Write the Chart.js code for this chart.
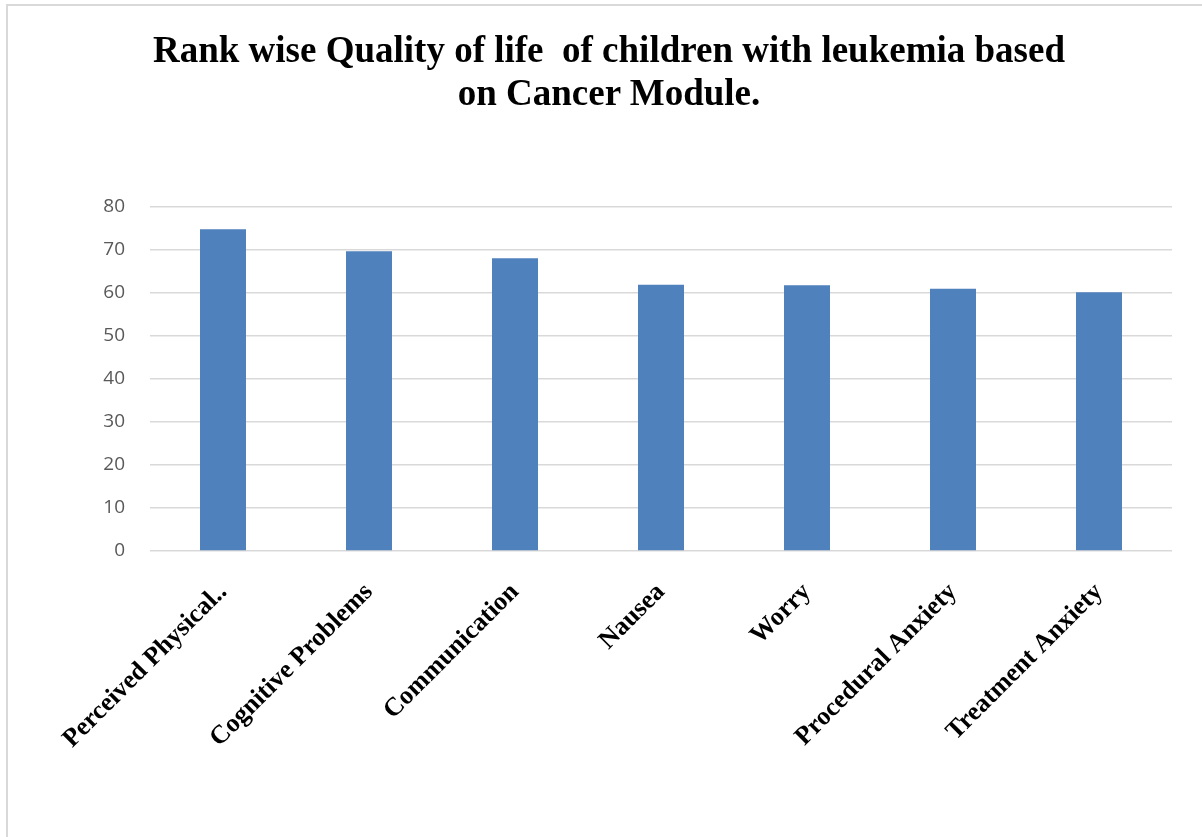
<!DOCTYPE html>
<html>
<head>
<meta charset="UTF-8">
<title>Rank wise Quality of life</title>
<script src="https://cdn.jsdelivr.net/npm/chart.js"></script>
<style>
  html, body { margin: 0; padding: 0; background: #fff; }
  #wrap { position: relative; width: 1202px; height: 837px; overflow: hidden; }
  #frame { position: absolute; left: 6px; top: 4px; width: 1300px; height: 900px;
    border-top: 2px solid #d9d9d9; border-left: 2px solid #d9d9d9; }
  #title { position: absolute; left: 0; top: 28px; width: 1218px; text-align: center;
    font-family: "Liberation Serif", "Times New Roman", serif; font-weight: bold;
    font-size: 37px; line-height: 43px; color: #000; white-space: pre; }
  canvas { position: absolute; left: 0; top: 0; }
</style>
</head>
<body>
<div id="wrap">
  <div id="frame"></div>
  <canvas id="chart" width="1202" height="837"></canvas>
  <div id="title"></div>
</div>
<script>
// data
const categories = ['Perceived Physical..', 'Cognitive Problems', 'Communication', 'Nausea', 'Worry', 'Procedural Anxiety', 'Treatment Anxiety'];
const scores = [74.8, 69.7, 68.1, 61.9, 61.8, 61.0, 60.2];
const titleLines = ['Rank wise Quality of life  of children with leukemia based', 'on Cancer Module.'];

document.getElementById('title').textContent = titleLines.join('\n');

const ctx = document.getElementById('chart').getContext('2d');
new Chart(ctx, {
  type: 'bar',
  data: {
    labels: categories,
    datasets: [{
      label: 'Score',
      data: scores,
      backgroundColor: '#4f81bd',
      borderWidth: 0,
      categoryPercentage: 1,
      barPercentage: 0.315,
    }],
  },
  options: {
    responsive: false,
    animation: false,
    layout: { padding: { left: 0, right: 30, top: 207, bottom: 0 } },
    plugins: {
      legend: { display: false },
      tooltip: { enabled: false },
      title: { display: false },
    },
    scales: {
      x: {
        grid: { display: false },
        border: { display: false },
        ticks: {
          color: '#000',
          font: { family: '"Liberation Serif", "Times New Roman", serif', size: 26, weight: 'bold' },
          minRotation: 45,
          maxRotation: 45,
          autoSkip: false,
          padding: 18,
        },
        afterFit: (scale) => { scale.height = 837 - 551; },
      },
      y: {
        min: 0,
        max: 80,
        ticks: {
          stepSize: 10,
          color: '#595959',
          font: { family: '"Open Sans", "Liberation Sans", sans-serif', size: 19 },
          padding: 25,
        },
        grid: { color: '#d9d9d9', lineWidth: 1.5, drawTicks: false },
        border: { display: false },
        afterFit: (scale) => { scale.width = 150; },
      },
    },
  },
});
</script>
</body>
</html>
